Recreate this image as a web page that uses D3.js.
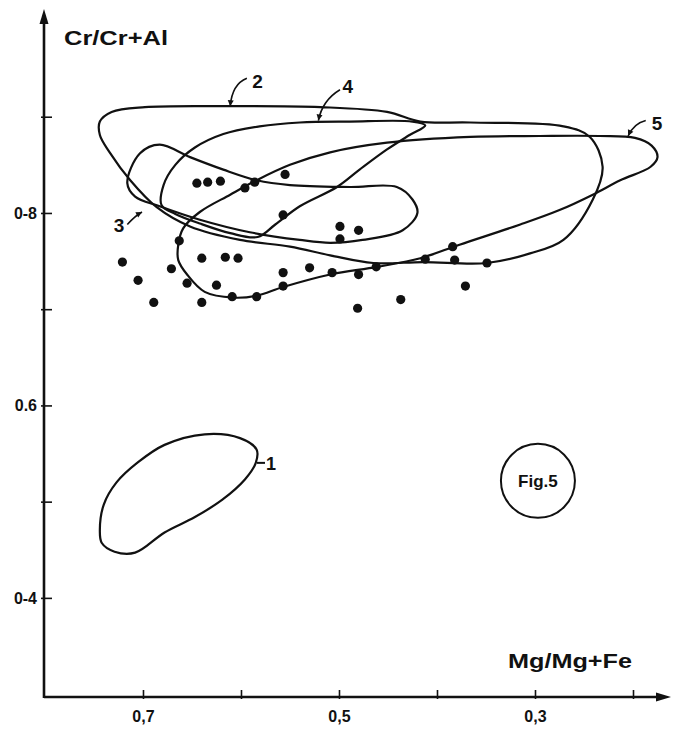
<!DOCTYPE html>
<html><head><meta charset="utf-8">
<script src="https://cdn.jsdelivr.net/npm/d3@7"></script>
<style>body{margin:0;background:#fff}svg{display:block}text{font-family:"Liberation Sans",Arial,sans-serif;font-weight:bold;fill:#111}</style>
</head><body>
<svg id="c" width="673" height="730"></svg>
<script>
// ---- data ----
const xTickValues = [0.7, 0.6, 0.5, 0.4, 0.3, 0.2];
const xTickLabels = ["0,7", "", "0,5", "", "0,3", ""];
const yTickValues = [0.9, 0.8, 0.7, 0.6, 0.5, 0.4];
const yTickLabels = ["", "0-8", "", "0.6", "", "0-4"];
const xTitle = "Mg/Mg+Fe";
const yTitle = "Cr/Cr+Al";
const figLabel = "Fig.5";

const field1 = [[0.744,0.471],[0.740,0.497],[0.727,0.520],[0.705,0.541],[0.678,0.559],[0.637,0.570],[0.601,0.566],[0.584,0.554],[0.585,0.540],[0.596,0.523],[0.619,0.502],[0.647,0.484],[0.678,0.468],[0.708,0.447],[0.729,0.448],[0.742,0.457]];
const field2 = [[0.744,0.895],[0.732,0.905],[0.698,0.910],[0.611,0.911],[0.519,0.910],[0.451,0.905],[0.417,0.895],[0.366,0.894],[0.271,0.890],[0.244,0.879],[0.231,0.848],[0.241,0.814],[0.271,0.772],[0.305,0.758],[0.349,0.748],[0.414,0.749],[0.465,0.748],[0.509,0.756],[0.550,0.765],[0.601,0.772],[0.652,0.786],[0.686,0.806],[0.713,0.834],[0.734,0.863],[0.744,0.881]];
const field3 = [[0.716,0.831],[0.703,0.862],[0.683,0.871],[0.652,0.858],[0.618,0.845],[0.584,0.834],[0.550,0.829],[0.489,0.827],[0.441,0.827],[0.425,0.814],[0.420,0.800],[0.435,0.782],[0.476,0.772],[0.509,0.769],[0.540,0.772],[0.591,0.780],[0.642,0.793],[0.683,0.807],[0.708,0.817]];
const field4 = [[0.681,0.808],[0.679,0.829],[0.667,0.850],[0.647,0.868],[0.618,0.882],[0.581,0.890],[0.540,0.894],[0.489,0.895],[0.425,0.895],[0.412,0.891],[0.428,0.881],[0.451,0.866],[0.479,0.845],[0.502,0.827],[0.540,0.807],[0.565,0.788],[0.583,0.775],[0.611,0.779],[0.642,0.789],[0.667,0.799]];
const field5 = [[0.664,0.767],[0.659,0.784],[0.642,0.801],[0.611,0.819],[0.584,0.834],[0.550,0.850],[0.509,0.863],[0.451,0.873],[0.366,0.879],[0.295,0.880],[0.234,0.880],[0.198,0.878],[0.181,0.870],[0.175,0.858],[0.182,0.848],[0.213,0.834],[0.241,0.819],[0.275,0.803],[0.315,0.788],[0.377,0.767],[0.417,0.753],[0.461,0.744],[0.509,0.736],[0.557,0.723],[0.584,0.714],[0.608,0.712],[0.637,0.718],[0.655,0.736],[0.664,0.751]];
const fields = [field1, field2, field3, field4, field5];

const sampleX = [0.721,0.705,0.689,0.671,0.655,0.640,0.616,0.603,0.625,0.640,0.609,0.584,0.557,0.557,0.530,0.557,0.555,0.645,0.634,0.621,0.596,0.586,0.663,0.499,0.480,0.499,0.507,0.480,0.462,0.412,0.384,0.382,0.349,0.371,0.437,0.481];
const sampleY = [0.749,0.730,0.707,0.742,0.727,0.753,0.754,0.753,0.725,0.707,0.713,0.713,0.738,0.724,0.743,0.798,0.840,0.831,0.832,0.833,0.826,0.832,0.771,0.786,0.782,0.773,0.738,0.736,0.744,0.752,0.765,0.751,0.748,0.724,0.710,0.701];

// annotation labels: [text, textX, textY, leader start, leader ctrl, leader end]
const fieldLabels = [
  ["2", 0.583, 0.930, [0.594,0.940], [0.609,0.934], [0.611,0.911]],
  ["4", 0.491, 0.925, [0.499,0.928], [0.517,0.917], [0.521,0.896]],
  ["5", 0.1755,0.886, [0.187,0.896], [0.199,0.893], [0.205,0.880]],
  ["3", 0.7245,0.780, [0.716,0.788], [0.708,0.797], [0.701,0.801]]
];
const label1 = ["1", 0.5694, 0.533, [0.5837,0.5403], [0.5755,0.5403]];
const figCenter = [0.297, 0.5216];

// ---- drawing ----
const svg = d3.select("#c");
const x = d3.scaleLinear().domain([0.801, 0.2]).range([44, 633]);
const y = d3.scaleLinear().domain([0.297, 1.0]).range([697, 20.5]);

// axes
const xAxis = d3.axisBottom(x).tickValues(xTickValues)
  .tickFormat((d,i)=>xTickLabels[i]).tickSizeInner(-7).tickSizeOuter(0).tickPadding(14);
const gx = svg.append("g").attr("transform","translate(0,697)").call(xAxis);
gx.select(".domain").remove();
gx.selectAll(".tick line").attr("y1",2).attr("stroke","#111").attr("stroke-width",1.6);
gx.selectAll(".tick text").style("font-size","16px").style("font-family","'Liberation Sans',Arial,sans-serif").attr("fill","#111");

const yAxis = d3.axisLeft(y).tickValues(yTickValues)
  .tickFormat((d,i)=>yTickLabels[i]).tickSizeInner(-8).tickSizeOuter(0).tickPadding(7);
const gy = svg.append("g").attr("transform","translate(44,0)").call(yAxis);
gy.select(".domain").remove();
gy.selectAll(".tick line").attr("x1",-3).attr("stroke","#111").attr("stroke-width",1.6);
gy.selectAll(".tick text").style("font-size","16px").style("font-family","'Liberation Sans',Arial,sans-serif").attr("fill","#111");

// axis lines with arrows
svg.append("line").attr("x1",44).attr("y1",697).attr("x2",664).attr("y2",697).attr("stroke","#111").attr("stroke-width",2.6);
svg.append("line").attr("x1",44).attr("y1",698).attr("x2",44).attr("y2",18).attr("stroke","#111").attr("stroke-width",2.6);
svg.append("path").attr("d","M671,697 L656,692.5 L656,701.5 Z").attr("fill","#111");
svg.append("path").attr("d","M44,9 L39.5,24 L48.5,24 Z").attr("fill","#111");

// titles
svg.append("text").attr("x",64).attr("y",45).attr("textLength",104).attr("lengthAdjust","spacingAndGlyphs")
  .style("font-size","20px").text(yTitle);
svg.append("text").attr("x",508).attr("y",668).attr("textLength",124).attr("lengthAdjust","spacingAndGlyphs")
  .style("font-size","20px").text(xTitle);

// fields
const line = d3.line().x(d=>x(d[0])).y(d=>y(d[1])).curve(d3.curveCatmullRomClosed.alpha(0.5));
svg.append("g").selectAll("path").data(fields).join("path")
  .attr("d", line).attr("fill","none").attr("stroke","#111").attr("stroke-width",2.2).attr("stroke-linejoin","round");

// samples
svg.append("g").selectAll("circle").data(sampleX).join("circle")
  .attr("cx",(d)=>x(d)).attr("cy",(d,i)=>y(sampleY[i])).attr("r",4.6).attr("fill","#111");

// field labels with leaders
fieldLabels.forEach(l=>{
  const [t,tx,ty,s,c,e]=l;
  svg.append("path").attr("d",`M${x(s[0])},${y(s[1])} Q${x(c[0])},${y(c[1])} ${x(e[0])},${y(e[1])}`)
    .attr("fill","none").attr("stroke","#111").attr("stroke-width",1.6);
  const ang = Math.atan2(y(e[1])-y(c[1]), x(e[0])-x(c[0]));
  const ex=x(e[0]), ey=y(e[1]), L=6, W=3;
  const bx=ex-L*Math.cos(ang), by=ey-L*Math.sin(ang);
  svg.append("path").attr("d",`M${ex},${ey} L${bx-W*Math.sin(ang)},${by+W*Math.cos(ang)} L${bx+W*Math.sin(ang)},${by-W*Math.cos(ang)} Z`).attr("fill","#111");
  svg.append("text").attr("x",x(tx)).attr("y",y(ty)).attr("text-anchor","middle").style("font-size","19px").text(t);
});
svg.append("line").attr("x1",x(label1[3][0])).attr("y1",y(label1[3][1])).attr("x2",x(label1[4][0])).attr("y2",y(label1[4][1]))
  .attr("stroke","#111").attr("stroke-width",2);
svg.append("text").attr("x",x(label1[1])).attr("y",y(label1[2])).attr("text-anchor","middle").style("font-size","18px").text(label1[0]);

// Fig.5 circle
svg.append("circle").attr("cx",x(figCenter[0])).attr("cy",y(figCenter[1])).attr("r",37)
  .attr("fill","none").attr("stroke","#111").attr("stroke-width",2);
svg.append("text").attr("x",x(figCenter[0])).attr("y",y(figCenter[1])+6).attr("text-anchor","middle")
  .style("font-size","17px").text(figLabel);
</script>
</body></html>
